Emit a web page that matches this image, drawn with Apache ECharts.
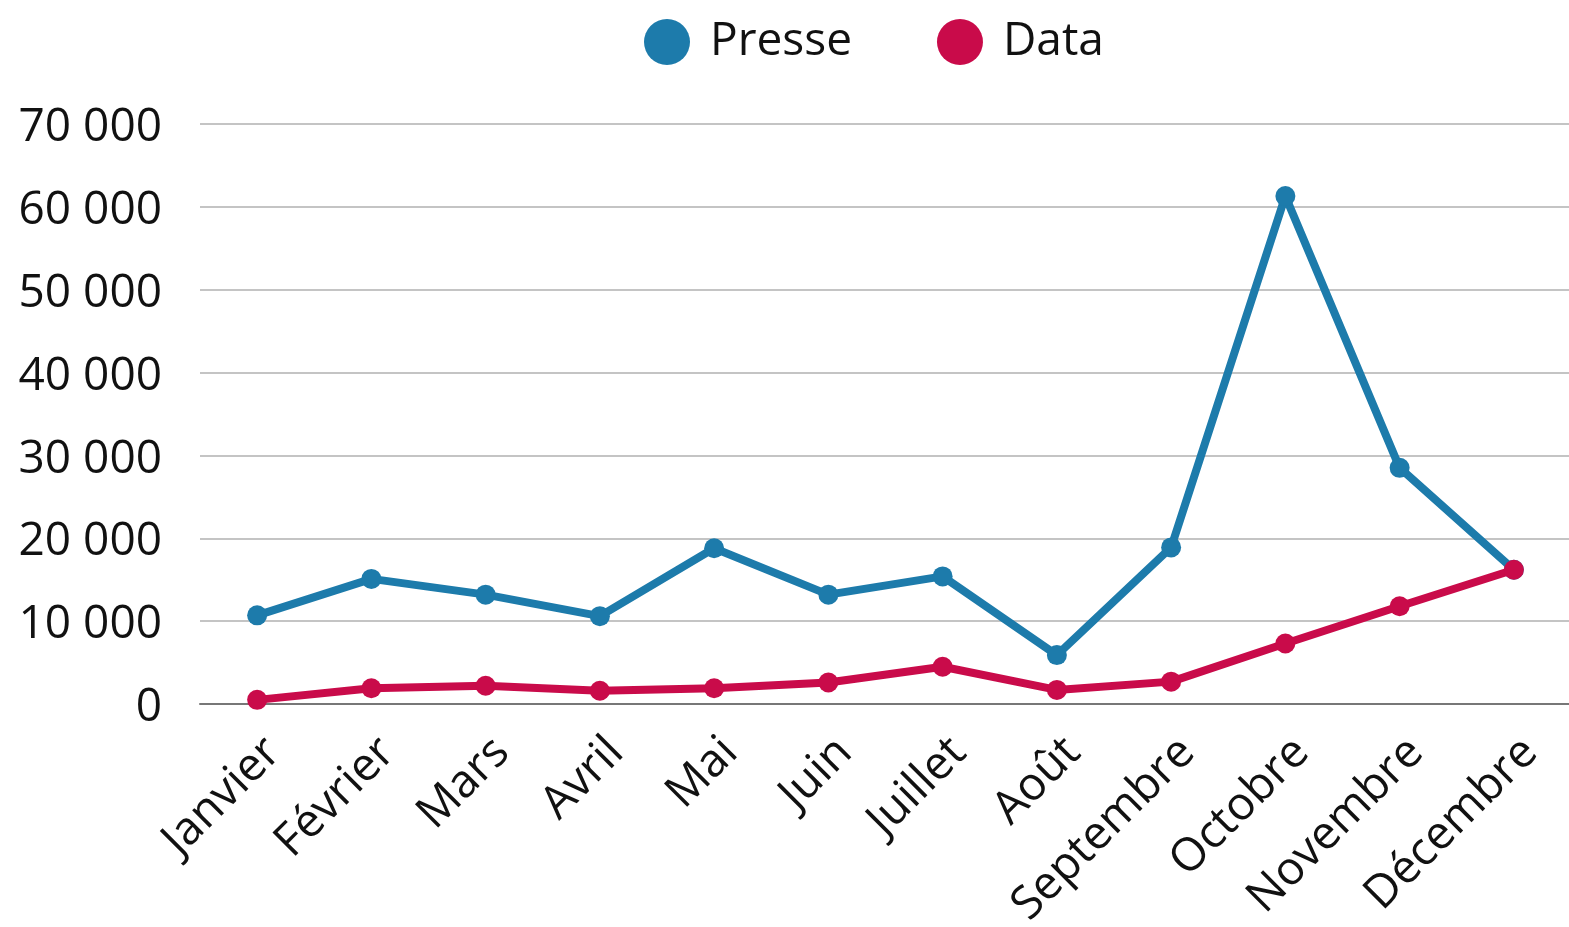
<!DOCTYPE html>
<html>
<head>
<meta charset="utf-8">
<script src="https://cdn.jsdelivr.net/npm/echarts@6/dist/echarts.min.js"></script>
<style>
  html, body { margin: 0; padding: 0; background: #fff; }
  #chart { width: 1569px; height: 927px; }
</style>
</head>
<body>
<div id="chart"></div>
<script>
const months = ['Janvier', 'Février', 'Mars', 'Avril', 'Mai', 'Juin', 'Juillet', 'Août', 'Septembre', 'Octobre', 'Novembre', 'Décembre']
const presse = [10700, 15100, 13200, 10600, 18800, 13200, 15400, 5900, 18900, 61300, 28500, 16200]
const data = [500, 1900, 2200, 1600, 1900, 2600, 4500, 1700, 2700, 7300, 11800, 16200]

const font = '"Open Sans", "Noto Sans", sans-serif'

// 12345 -> "12 345"
function fmt(v) {
  return '{v|' + String(v).replace(/\B(?=(\d{3})+(?!\d))/g, ' ') + '}'
}

const chart = echarts.init(document.getElementById('chart'), null, { renderer: 'canvas' })

chart.setOption({
  animation: false,
  color: ['#1d7bab', '#c90b4a'],
  textStyle: { fontFamily: font },
  legend: {
    top: 14,
    left: 639,
    icon: 'circle',
    itemWidth: 46,
    itemHeight: 46,
    itemGap: 85,
    textStyle: { fontFamily: font, fontSize: 46, color: '#111', padding: [0, 0, 0, 15] },
    data: ['Presse', 'Data']
  },
  grid: { left: 200, width: 1371, top: 124, bottom: 223, containLabel: false, outerBoundsMode: 'none' },
  xAxis: {
    type: 'category',
    data: months,
    boundaryGap: true,
    axisTick: { show: false },
    axisLine: { lineStyle: { color: '#777', width: 2 } },
    axisLabel: {
      rotate: 45,
      interval: 0,
      margin: 25,
      verticalAlign: 'top',
      fontFamily: font,
      fontSize: 46,
      color: '#111'
    }
  },
  yAxis: {
    type: 'value',
    min: 0,
    max: 70000,
    interval: 10000,
    axisLine: { show: false },
    axisTick: { show: false },
    splitLine: { lineStyle: { color: '#c4c4c4', width: 2 } },
    axisLabel: {
      margin: 38,
      fontFamily: font,
      fontSize: 46,
      color: '#111',
      formatter: fmt,
      rich: {
        v: { fontFamily: font, fontSize: 46, color: '#111', padding: [8, 0, 0, 0] }
      }
    }
  },
  series: [
    {
      name: 'Presse',
      type: 'line',
      data: presse,
      symbol: 'circle',
      symbolSize: 20,
      lineStyle: { width: 8 },
      z: 2
    },
    {
      name: 'Data',
      type: 'line',
      data: data,
      symbol: 'circle',
      symbolSize: 20,
      lineStyle: { width: 8 },
      z: 3
    }
  ]
})
</script>
</body>
</html>
